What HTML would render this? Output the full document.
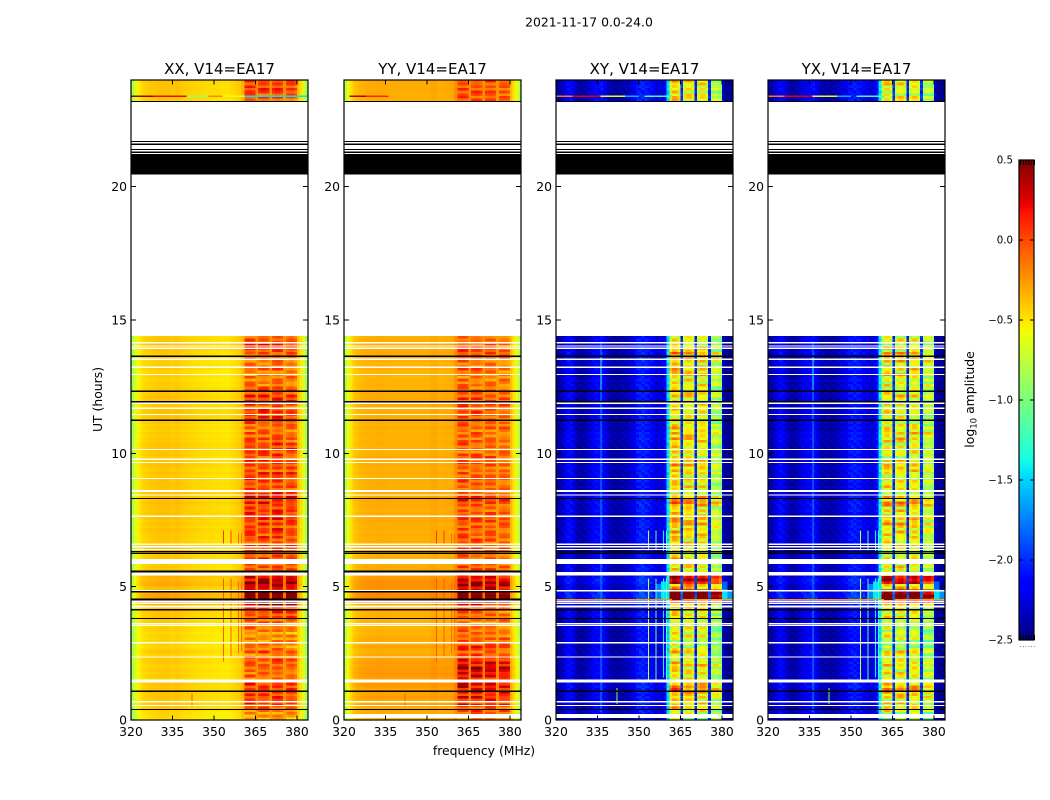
<!DOCTYPE html>
<html lang="en">
<head>
<meta charset="utf-8">
<title>2021-11-17 0.0-24.0</title>
<style>
html,body{margin:0;padding:0;background:#fff;}
svg{display:block;}
text{font-family:"DejaVu Sans","Liberation Sans",sans-serif;fill:#000;}
</style>
</head>
<body>
<svg id="fig" xmlns="http://www.w3.org/2000/svg" width="1050" height="800" viewBox="0 0 1050 800">
  <rect x="0" y="0" width="1050" height="800" fill="#fff"/>
  <text x="589" y="26.5" text-anchor="middle" font-size="12.4">2021-11-17 0.0-24.0</text>
  <text x="484" y="755" text-anchor="middle" font-size="12.4">frequency (MHz)</text>
  <text transform="translate(102,399.5) rotate(-90)" text-anchor="middle" font-size="12.4">UT (hours)</text>
  <text transform="translate(974,399.5) rotate(-90)" text-anchor="middle" font-size="12.4">log<tspan font-size="8.6" dy="2.5">10</tspan><tspan dy="-2.5"> amplitude</tspan></text>
  <g id="panels"></g>
  <g id="colorbar"></g>
</svg>
<script>
// ---------- chart data ----------
const panelTitles = ['XX, V14=EA17', 'YY, V14=EA17', 'XY, V14=EA17', 'YX, V14=EA17'];
const xTickValues = [320, 335, 350, 365, 380];
const yTickValues = [0, 5, 10, 15, 20];
const colorbarTickValues = [0.5, 0.0, -0.5, -1.0, -1.5, -2.0, -2.5];
const activeBands = [[361, 365], [366, 370], [371, 375], [376, 380]];

// mean log10 amplitude for each 1 MHz channel, 320..383
const xxProfile = [-.85,-.68,-.56,-.5,-.46,-.44,-.43,-.42,-.42,-.41,
  -.41,-.4,-.4,-.4,-.42,-.42,-.4,-.42,-.43,-.44,
  -.44,-.45,-.46,-.46,-.47,-.47,-.48,-.48,-.48,-.49,
  -.49,-.49,-.5,-.5,-.5,-.5,-.48,-.46,-.44,-.42,
  -.35,-.1,-.08,-.08,-.11,-.22,-.1,-.06,-.06,-.1,
  -.24,-.1,-.05,-.05,-.1,-.24,-.13,-.08,-.08,-.16,
  -.38,-.5,-.68,-.85];
const yyProfile = [-.8,-.62,-.5,-.42,-.38,-.36,-.35,-.34,-.33,-.33,
  -.33,-.33,-.32,-.32,-.32,-.33,-.33,-.33,-.33,-.33,
  -.33,-.33,-.33,-.33,-.33,-.33,-.33,-.33,-.33,-.33,
  -.33,-.31,-.3,-.31,-.33,-.33,-.32,-.32,-.32,-.3,
  -.22,-.11,-.08,-.08,-.11,-.22,-.11,-.08,-.08,-.13,
  -.24,-.13,-.11,-.11,-.15,-.26,-.15,-.13,-.13,-.17,
  -.38,-.5,-.62,-.8];
const xyProfile = [-2.42,-2.4,-2.34,-2.2,-2.15,-2.15,-2.25,-2.38,-2.42,-2.42,
  -2.38,-2.33,-2.28,-2.2,-2.15,-2.15,-2.1,-2.2,-2.3,-2.38,
  -2.4,-2.42,-2.42,-2.4,-2.38,-2.36,-2.33,-2.28,-2.2,-2.1,
  -2.05,-2.05,-2.08,-2.1,-2.15,-2.22,-2.28,-2.28,-2.25,-2.15,
  -1.5,-.8,-.6,-.6,-.75,-2.0,-.75,-.65,-.65,-.78,
  -2.05,-.8,-.7,-.7,-.85,-2.05,-.95,-.9,-.9,-1.05,
  -2.35,-2.45,-2.48,-2.5];
const yxProfile = [-2.42,-2.38,-2.32,-2.2,-2.15,-2.18,-2.28,-2.38,-2.42,-2.4,
  -2.38,-2.32,-2.26,-2.2,-2.18,-2.15,-2.12,-2.2,-2.32,-2.38,
  -2.4,-2.4,-2.42,-2.4,-2.38,-2.34,-2.3,-2.26,-2.2,-2.12,
  -2.08,-2.08,-2.1,-2.12,-2.18,-2.24,-2.28,-2.28,-2.22,-2.1,
  -1.45,-.9,-.72,-.7,-.85,-2.0,-.82,-.7,-.68,-.85,
  -2.05,-.85,-.72,-.72,-.9,-2.0,-.95,-.88,-.88,-1.0,
  -2.35,-2.45,-2.48,-2.5];

// row offsets: 0.1 h rows from 0 to 14.4 h, then 8 rows 23.2..24 h
const xxRows = [-.28,-.22,-.18,-.08,0,.06,.1,.04,.12,.1,
  .14,.1,.06,.14,-.05,-.1,0,-.05,.04,-.06,
  -.08,.02,.06,-.02,-.12,.08,-.05,-.18,-.1,-.14,
  -.16,-.1,-.2,-.12,-.05,-.18,-.02,.02,.1,.06,
  .14,.06,.2,.45,.62,.66,.66,.62,.2,.2,
  .5,.5,.36,.42,.18,0,-.02,.02,0,.06,
  .1,.06,-.05,.1,.04,.08,.08,.02,.1,.04,
  .12,.18,.04,.14,.08,.2,.06,.18,.14,.1,
  .16,.24,.1,.26,.2,.14,.08,.12,.05,.08,
  .1,.02,.12,0,.1,.14,.06,.12,-.02,.1,
  .05,.14,.08,.12,-.02,.06,-.04,.04,-.08,.02,
  -.06,.05,.1,.14,.06,.18,.1,.02,.1,.14,
  .12,.16,.08,.14,0,-.1,-.06,-.12,-.05,-.14,
  -.1,.02,-.12,-.06,-.1,-.02,-.08,.02,.08,.14,
  .16,.08,.05,.02,
  .02,.05,0,.08,.1,.1,.12,.14];
const yyRows = [-.2,-.2,.05,.1,.05,.25,.05,.2,.3,.2,
  .28,.2,.3,.35,.3,.2,.35,.38,.3,.4,
  .25,.3,.25,.15,.1,0,.1,.15,.05,.02,
  .1,0,-.05,-.02,-.08,-.1,-.12,0,.02,0,
  -.02,0,.05,.2,.6,.66,.66,.6,.4,.4,
  .5,.5,.42,.3,.1,0,.05,.08,.02,0,
  .02,-.02,-.05,0,.05,0,.02,.05,.02,.05,
  0,.08,.05,.02,.1,.05,0,.08,0,.05,
  .05,.1,.15,.1,.05,0,.05,.02,-.02,.05,
  .02,-.05,.05,0,.02,.05,0,.02,.08,.02,
  -.02,0,-.05,.02,0,-.05,-.02,0,-.06,.02,
  -.02,0,-.05,.05,.02,.08,.02,.05,.1,.05,
  .12,.08,.05,0,-.05,-.02,-.08,-.05,-.1,-.06,
  -.05,0,-.05,-.08,-.02,.05,0,.1,.06,.05,
  .02,0,.05,.02,
  .02,.03,0,.05,.08,.08,.06,.1];
const crossRows = [-.1,-.05,-.05,.15,.2,.1,.25,.1,.3,.2,
  .35,.5,.4,.3,.2,.1,.1,.15,.05,.1,
  .3,.25,.1,0,.05,.2,0,-.1,-.05,-.1,
  .05,.1,0,-.1,.05,-.05,.1,0,.15,.05,
  .1,.05,.25,.3,.8,1.3,1.35,1.35,1.3,.3,
  .3,1.0,1.05,.95,.5,0,.15,.2,.1,.15,
  .2,.05,0,.05,.1,.2,.15,.05,.2,.25,
  .3,.15,.2,.35,.2,.3,.25,.2,.3,.1,
  .4,.45,.3,.35,.1,0,.1,.2,.05,.1,
  .1,.05,.25,.3,.15,.3,.1,.25,0,.15,
  .2,.05,.1,0,.25,.3,.2,.35,.1,.2,
  .1,.05,0,.1,0,.15,.1,.05,.2,0,
  .1,.25,.15,.1,0,.2,.05,.15,.1,.3,
  .1,.3,.25,.1,.35,.45,.1,.4,.05,.3,
  0,.1,.15,0,
  .1,.15,.05,.1,.2,.1,.2,.15];

// fine row-to-row striping for each active band, and for cross-hand quiet channels
const bandRipples = [
  [.08,-.06,.1,-.1,.04,-.04,.12],
  [-.05,.09,-.08,.06,.11,-.1,.02,-.03],
  [.06,.1,-.09,.03,-.07,.09,-.02],
  [-.08,.04,.1,-.05,.07,-.1,.05,.02,-.04]
];
const crossQuietRipple = [-.08,.04,-.04,.07,0,-.09,.05,-.02,.04,-.06,.02];

// flagged time ranges in hours: [start, end]
const whiteCommon = [[14.12,14.17],[14.0,14.05],[13.91,13.96],[13.5,13.55],[13.2,13.25],[12.93,12.98],
  [11.85,11.9],[11.66,11.71],[11.43,11.48],[10.12,10.17],[9.75,9.8],[9.63,9.68],[9.03,9.08],[8.55,8.63],
  [8.41,8.46],[7.61,7.66],[6.57,6.62],[6.47,6.52],[6.37,6.42],[5.85,6.04],[5.41,5.55],[4.82,4.87],
  [4.43,4.48],[4.35,4.4],[4.22,4.29],[3.59,3.64],[3.52,3.57],[2.87,2.92],[2.34,2.39],[1.41,1.51],
  [.66,.71],[.52,.57]];
const whiteBottomCross = [[.07,.22]];
const blackCommon = [[23.18,23.22],[21.67,21.72],[21.56,21.61],[21.37,21.42],[21.27,21.32],[20.46,21.22],
  [13.61,13.66],[12.3,12.35],[11.91,11.96],[11.21,11.26],[8.28,8.33],[6.28,6.33],[6.22,6.27],
  [4.11,4.17],[3.78,3.83],[1.05,1.1],[.37,.42]];
const blackCoOnly = [[5.53,5.6],[4.79,4.84],[4.49,4.55]];

// short-lived interference: channel MHz, start h, end h, log10 amplitude
const coRfi = [[353.3,2.2,5.3,-.05],[353.3,6.6,7.1,.05],[355.9,2.4,5.3,-.05],[355.9,6.6,7.1,.05],
  [358.7,2.5,5.2,-.1],[358.7,6.6,7.0,-.1],[359.8,2.6,5.2,-.1],[359.8,6.6,7.0,-.1],[341.8,.5,1.0,-.05]];
const crossRfi = [[353.3,1.4,5.3,-.7],[353.3,6.4,7.1,-.7],[355.9,1.4,5.3,-1.1],[355.9,6.4,7.1,-1.1],
  [358.7,1.6,5.3,-1.4],[358.7,6.3,7.1,-1.4],[359.8,1.5,5.3,-1.2],[359.8,6.3,7.1,-1.2],
  [336,.3,14.2,-1.7],[336,12.4,13.6,-1.35],[341.8,.6,1.2,-1.0]];

// cross-hand patches near the strong burst: f0, f1, h0, h1, log10 amplitude
const crossPatches = [[356,358,4.5,5.1,-1.75],[358,361,4.5,5.2,-1.45],[380,382,4.5,4.9,-1.45],[382,384,4.5,4.85,-1.7],[380,382,4.9,5.2,-1.85]];

// single-row bursts: hour, then [f0, f1, value] segments
const burstHour = 23.39;
const xxBurst = [[320,328,.42],[328,340,.2],[340,348,-.9],[348,353,-.2],[353,361,-.6],[361,384,-1.45]];
const yyBurst = [[322,328,.35],[328,336,.1]];
const crossBurst = [[320,326,-.15],[326,336,.25],[336,345,-.6],[345,350,-1.6],[352,362,-1.2]];
const crossLineHour = 4.52;
const crossLine = [[320,362,-.25],[366,384,-.3]];

// ---------- scales and helpers ----------
const NS = 'http://www.w3.org/2000/svg';
const plotTop = 80, plotBottom = 720, plotWidth = 177;
const panelLefts = [131, 344, 556, 768];
const vMin = -2.5, vMax = 0.5;
const yScale = h => plotBottom - (h / 24) * (plotBottom - plotTop);
const makeXScale = left => f => left + (f - 320) / 64 * plotWidth;

function lerp(stops, t) {
  for (let i = 1; i < stops.length; i++) {
    if (t <= stops[i][0]) {
      const a = stops[i - 1], b = stops[i];
      return a[1] + (b[1] - a[1]) * (t - a[0]) / (b[0] - a[0]);
    }
  }
  return stops[stops.length - 1][1];
}
const jetR = [[0,0],[.35,0],[.66,1],[.89,1],[1,.5]];
const jetG = [[0,0],[.125,0],[.375,1],[.64,1],[.91,0],[1,0]];
const jetB = [[0,.5],[.11,1],[.34,1],[.65,0],[1,0]];
function jet(v) {
  const t = Math.max(0, Math.min(1, (v - vMin) / (vMax - vMin)));
  return 'rgb(' + Math.round(255 * lerp(jetR, t)) + ',' + Math.round(255 * lerp(jetG, t)) + ',' + Math.round(255 * lerp(jetB, t)) + ')';
}
function bandIndex(f) {
  for (let i = 0; i < activeBands.length; i++) {
    if (f >= activeBands[i][0] && f < activeBands[i][1]) return i;
  }
  return -1;
}
function rect(parent, x, y, w, h, fill, crisp) {
  const el = document.createElementNS(NS, 'rect');
  el.setAttribute('x', x.toFixed(2));
  el.setAttribute('y', y.toFixed(2));
  el.setAttribute('width', w.toFixed(2));
  el.setAttribute('height', h.toFixed(2));
  el.setAttribute('fill', fill);
  if (crisp) el.setAttribute('shape-rendering', 'crispEdges');
  parent.appendChild(el);
  return el;
}
function label(parent, x, y, str, anchor, size) {
  const el = document.createElementNS(NS, 'text');
  el.setAttribute('x', x);
  el.setAttribute('y', y);
  el.setAttribute('text-anchor', anchor);
  el.setAttribute('font-size', size);
  el.textContent = str;
  parent.appendChild(el);
  return el;
}

// ---------- panels ----------
const panelsRoot = document.getElementById('panels');
const profiles = [xxProfile, yyProfile, xyProfile, yxProfile];
const rowSets = [xxRows, yyRows, crossRows, crossRows];
const nRows = xxRows.length;
function rowHour(r) { return r < 144 ? r * 0.1 : 23.2 + (r - 144) * 0.1; }

panelLefts.forEach(function (left, p) {
  const xScale = makeXScale(left);
  const isCross = p >= 2;
  const g = document.createElementNS(NS, 'g');
  
  
  const frag = document.createDocumentFragment();

  // heatmap cells
  for (let r = 0; r < nRows; r++) {
    const h0 = rowHour(r);
    const yTop = yScale(h0 + 0.1), yBot = yScale(h0);
    for (let c = 0; c < profiles[p].length; c++) {
      const f = 320 + c;
      const b = bandIndex(f);
      let v = profiles[p][c];
      if (b >= 0) {
        const rip = bandRipples[b][(r + p) % bandRipples[b].length];
        v += rowSets[p][r] + rip * (isCross ? 2.2 : 1.7);
      } else {
        v += rowSets[p][r] * (isCross ? 0.12 : 0.2);
        if (isCross) v += crossQuietRipple[(r + c % 3) % crossQuietRipple.length];
      }
      const cell = rect(frag, xScale(f), yTop, xScale(f + 1) - xScale(f), yBot - yTop, jet(v), true);
      
      
    }
  }

  if (isCross) {
    crossPatches.forEach(function (d) {
      const el = rect(frag, xScale(d[0]), yScale(d[3]), xScale(d[1]) - xScale(d[0]), yScale(d[2]) - yScale(d[3]), jet(d[4]), true);
      
      
    });
  }

  // interference lines
  (isCross ? crossRfi : coRfi).forEach(function (d) {
    const el = rect(frag, xScale(d[0]), yScale(d[2]), 1, yScale(d[1]) - yScale(d[2]), jet(d[3]), true);
    
    
  });

  // flagged rows
  const whites = isCross || p === 1 ? whiteCommon.concat(whiteBottomCross) : whiteCommon;
  const blanks = [[14.4, 23.2]].concat(whites);
  blanks.forEach(function (d) {
    const el = rect(frag, left, yScale(d[1]), plotWidth, yScale(d[0]) - yScale(d[1]), '#fff', true);
    
    
  });
  const blacks = isCross ? blackCommon : blackCommon.concat(blackCoOnly);
  blacks.forEach(function (d) {
    const el = rect(frag, left, yScale(d[1]), plotWidth, Math.max(1.3, yScale(d[0]) - yScale(d[1])), '#000', true);
    
    
  });

  // single-row bursts
  const burst = p === 0 ? xxBurst : p === 1 ? yyBurst : crossBurst;
  burst.forEach(function (d) {
    const el = rect(frag, xScale(d[0]), yScale(burstHour) - 0.6, xScale(d[1]) - xScale(d[0]), 1.5, jet(d[2]), true);
    
    
  });
  if (isCross) {
    crossLine.forEach(function (d) {
      const el = rect(frag, xScale(d[0]), yScale(crossLineHour) - 0.6, xScale(d[1]) - xScale(d[0]), 1.3, jet(d[2]), true);
      
      
    });
  }

  // frame
  const frame = document.createElementNS(NS, 'rect');
  frame.setAttribute('x', left);
  frame.setAttribute('y', plotTop);
  frame.setAttribute('width', plotWidth);
  frame.setAttribute('height', plotBottom - plotTop);
  frame.setAttribute('fill', 'none');
  frame.setAttribute('stroke', '#000');
  frame.setAttribute('stroke-width', '1.2');
  
  
  frag.appendChild(frame);

  // x ticks + labels
  xTickValues.forEach(function (t) {
    const x = xScale(t);
    const a = rect(frag, x - 0.5, plotBottom - 4.5, 1, 4.5, '#000', true);
    
    
    const b = rect(frag, x - 0.5, plotTop, 1, 4.5, '#000', true);
    
    
    const l = label(frag, x, 736, String(t), 'middle', 12.4);
    
    
  });

  // y ticks + labels
  yTickValues.forEach(function (t) {
    const y = yScale(t);
    const a = rect(frag, left, y - 0.5, 5, 1, '#000', true);
    
    
    const b = rect(frag, left + plotWidth - 5, y - 0.5, 5, 1, '#000', true);
    
    
    const l = label(frag, left - 4, y + 4.5, String(t), 'end', 12.4);
    
    
  });

  // title
  const title = label(frag, left + plotWidth / 2, 74, panelTitles[p], 'middle', 15);
  
  

  g.appendChild(frag);
  panelsRoot.appendChild(g);
});

// ---------- colorbar ----------
const cbRoot = document.getElementById('colorbar');
const cbLeft = 1019, cbWidth = 15, cbTop = 160, cbBottom = 640;
const cbY = v => cbBottom - (v - vMin) / (vMax - vMin) * (cbBottom - cbTop);
for (let y = cbTop; y < cbBottom; y += 2) {
  const v = vMax - (y + 1 - cbTop) / (cbBottom - cbTop) * (vMax - vMin);
  const seg = rect(cbRoot, cbLeft, y, cbWidth, 2, jet(v), true);
  
  
}
const cbFrame = document.createElementNS(NS, 'rect');
cbFrame.setAttribute('x', cbLeft);
cbFrame.setAttribute('y', cbTop);
cbFrame.setAttribute('width', cbWidth);
cbFrame.setAttribute('height', cbBottom - cbTop);
cbFrame.setAttribute('fill', 'none');
cbFrame.setAttribute('stroke', '#000');
cbFrame.setAttribute('stroke-width', '1.2');


cbRoot.appendChild(cbFrame);
colorbarTickValues.forEach(function (v) {
  const y = cbY(v);
  const a = rect(cbRoot, cbLeft, y - 0.5, 4, 1, '#000', true);
  
  
  const b = rect(cbRoot, cbLeft + cbWidth - 4, y - 0.5, 4, 1, '#000', true);
  
  
  const str = (v < 0 ? '\u2212' : '') + Math.abs(v).toFixed(1);
  const l = label(cbRoot, 1013, y + 3.6, str, 'end', 10.2);
  
  
});
for (let i = 0; i < 6; i++) {
  const x = cbLeft + 1 + i * 2.8;
  const a = rect(cbRoot, x, cbTop, 1, 5, '#000', true);
  
  
  const b = rect(cbRoot, x, cbBottom - 5, 1, 5, '#000', true);
  
  
  const d = rect(cbRoot, x, 646, 1, 1, '#888', true);
  
  
}
</script>
</body>
</html>
